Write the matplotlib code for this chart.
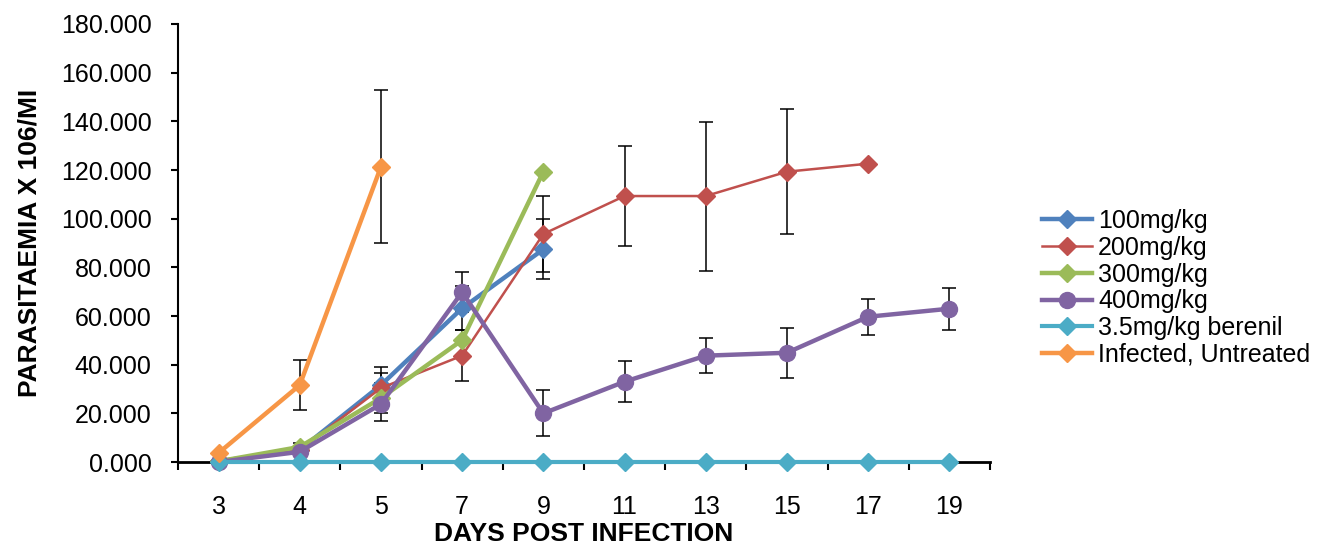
import matplotlib
matplotlib.use("Agg")
import matplotlib.pyplot as plt
import numpy as np

plt.rcParams["font.family"] = ["Liberation Sans", "DejaVu Sans"]

days = ["3", "4", "5", "7", "9", "11", "13", "15", "17", "19"]

# mean parasitaemia per group (None = no reading that day)
dose_100 = [0.3, 5.0, 31.6, 63.2, 87.4]
dose_200 = [0.3, 5.0, 30.4, 43.7, 93.7, 109.3, 109.3, 119.3, 122.6]
dose_300 = [0.3, 6.2, 26.3, 50.1, 119.3]
dose_400 = [0.0, 4.2, 23.8, 69.8, 20.0, 33.0, 43.7, 44.9, 59.7, 63.0]
berenil = [0.2, 0.2, 0.2, 0.2, 0.2, 0.2, 0.2, 0.2, 0.2, 0.2]
untreated = [3.7, 31.6, 121.3]

# standard errors (0 = no bar drawn)
err_100 = [0, 0, 7.6, 9.0, 12.3]
err_200 = [0, 0, 6.3, 10.4, 15.6, 20.6, 30.6, 25.7, 0]
err_300 = [0, 1.6, 6.0, 0, 0]
err_400 = [0, 0, 6.9, 8.3, 9.4, 8.5, 7.1, 10.3, 7.4, 8.7]
err_untreated = [0, 10.4, 31.5]

series = [
    ("100mg/kg", dose_100, err_100, "#4F81BD", "D", 3.2, 9.5),
    ("200mg/kg", dose_200, err_200, "#C0504D", "D", 1.8, 9.5),
    ("300mg/kg", dose_300, err_300, "#9BBB59", "D", 3.2, 9.5),
    ("400mg/kg", dose_400, err_400, "#8064A2", "o", 3.2, 11.5),
    ("3.5mg/kg berenil", berenil, None, "#4BACC6", "D", 3.0, 9.5),
    ("Infected, Untreated", untreated, err_untreated, "#F79646", "D", 3.2, 9.5),
]

fig = plt.figure(figsize=(13.25, 5.44), dpi=100)
ax = fig.add_axes([0.1343, 0.1507, 0.6128, 0.8052])

for label, vals, errs, color, marker, lw, ms in series:
    x = np.arange(len(vals))
    if errs is not None:
        idx = [i for i, e in enumerate(errs) if e > 0]
        ax.errorbar(x[idx], np.array(vals)[idx], yerr=np.array(errs)[idx],
                    fmt="none", ecolor="black", elinewidth=1.1,
                    capsize=5, capthick=1.1, zorder=3)
    ax.plot(x, vals, color=color, marker=marker, lw=lw, ms=ms,
            label=label, clip_on=False, zorder=4)

ax.set_xlim(-0.5, len(days) - 0.5)
ax.set_ylim(0, 180)
ax.set_yticks(np.arange(0, 181, 20))
ax.yaxis.set_major_formatter(matplotlib.ticker.FormatStrFormatter("%.3f"))
ax.set_xticks(np.arange(len(days)))
ax.set_xticklabels(days)
ax.set_xticks(np.arange(-0.5, len(days)), minor=True)

ax.tick_params(axis="x", which="major", length=0, pad=24, labelsize=18)
ax.tick_params(axis="x", which="minor", length=6, width=1.5, direction="out")
ax.tick_params(axis="y", length=5, width=1.5, pad=14, labelsize=18)

for side in ["top", "right"]:
    ax.spines[side].set_visible(False)
ax.spines["left"].set_linewidth(1.5)
ax.spines["bottom"].set_linewidth(2)

ax.set_xlabel("DAYS POST INFECTION", fontsize=19, fontweight="bold", labelpad=2)
ax.set_ylabel("PARASITAEMIA X 106/MI", fontsize=19, fontweight="bold", labelpad=14)

ax.legend(loc="center left", bbox_to_anchor=(0.7864, 0.4706),
          bbox_transform=fig.transFigure, frameon=False, fontsize=18,
          borderaxespad=0, borderpad=0, handlelength=2.0,
          handletextpad=0.25, labelspacing=0.11)

plt.savefig("out.png", dpi=100)
